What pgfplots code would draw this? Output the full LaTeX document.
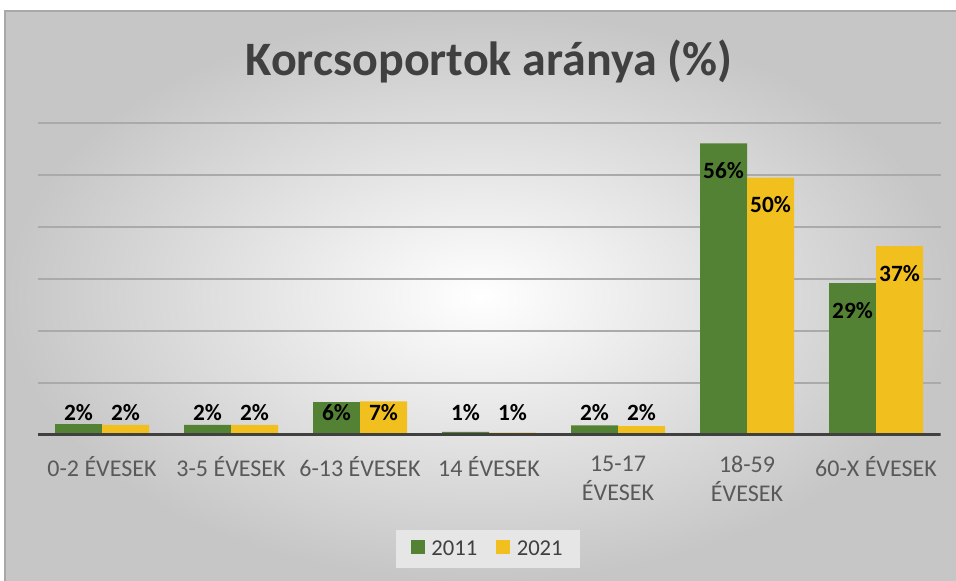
\documentclass[border=0pt]{standalone}
\usepackage{pgfplots}
\pgfplotsset{compat=1.18}
\usepackage{pgfplotstable}
\usepackage{fontspec}
\setmainfont{Carlito}

\definecolor{cgreen}{RGB}{84,130,53}
\definecolor{cyellow}{RGB}{242,192,30}
\definecolor{ctitle}{RGB}{64,64,64}
\definecolor{ctick}{RGB}{89,89,89}
\definecolor{cgrid}{RGB}{170,170,170}
\definecolor{cbase}{RGB}{64,64,64}
\definecolor{cbg}{RGB}{198,198,198}
\definecolor{cleg}{RGB}{230,230,230}

\pgfplotstableread{
x v lab
0 2.1 2
1 1.95 2
2 6.3 6
3 0.6 1
4 1.85 2
5 56.1 56
6 29.2 29
}\dataA

\pgfplotstableread{
x v lab
0 1.95 2
1 1.95 2
2 6.45 7
3 0.45 1
4 1.7 2
5 49.5 50
6 36.3 37
}\dataB

\begin{document}
\begin{tikzpicture}
\path[use as bounding box, fill=white] (-28.125pt,-109.5pt) rectangle (688.875pt,326.25pt);
\shade[inner color=white, outer color=cbg] (-24.375pt,-109.5pt) rectangle (688.875pt,318pt);
\draw[cbg!85!black, line width=0.8pt] (-24.375pt,-109.5pt) -- (-24.375pt,318pt) -- (688.875pt,318pt);
\begin{axis}[
  at={(0pt,0pt)}, anchor=south west,
  x=96.75pt, y=3.9pt,
  xmin=-0.5, xmax=6.5, ymin=0, ymax=60,
  /pgf/number format/assume math mode=true,
  axis line style={draw=none},
  tick style={draw=none},
  ytick={10,20,...,60}, yticklabels={},
  ymajorgrids, grid style={cgrid, line width=1.5pt},
  xtick={0,...,6},
  xticklabels={0-2 ÉVESEK, 3-5 ÉVESEK, 6-13 ÉVESEK, 14 ÉVESEK, {15-17\\ÉVESEK}, {18-59\\ÉVESEK}, 60-X ÉVESEK},
  xticklabel style={font=\fontsize{18}{22}\selectfont, text=ctick, align=center, yshift=-8pt},
  ybar, bar width=35.25pt,
  title={Korcsoportok aránya (\%)},
  title style={font=\fontsize{36}{40}\selectfont\bfseries, text=ctitle, at={(0.5,1.125)}, anchor=base},
  legend style={at={(0.499,-0.365)}, anchor=center, draw=none, fill=cleg,
    legend columns=2, font=\fontsize{17}{20}\selectfont, text=ctitle,
    /tikz/every odd column/.append style={column sep=3pt},
    /tikz/every even column/.append style={column sep=12pt},
    inner xsep=11pt, inner ysep=6pt},
  legend image code/.code={\fill[#1] (0pt,-4pt) rectangle (10.5pt,6.5pt);},
]
\addplot[fill=cgreen, draw=none, bar shift=-17.625pt, point meta=explicit,
  nodes near coords={\pgfmathprintnumber{\pgfplotspointmeta}\%},
  visualization depends on={y \as \rawy},
  every node near coord/.append style={font=\fontsize{17.5}{20}\selectfont\bfseries, text=black, anchor=center, yshift={max(-5.2,4.4-\rawy)*3.9pt}}]
  table[x=x, y=v, meta=lab] {\dataA};
\addplot[fill=cyellow, draw=none, bar shift=17.625pt, point meta=explicit,
  nodes near coords={\pgfmathprintnumber{\pgfplotspointmeta}\%},
  visualization depends on={y \as \rawy},
  every node near coord/.append style={font=\fontsize{17.5}{20}\selectfont\bfseries, text=black, anchor=center, yshift={max(-5.2,4.4-\rawy)*3.9pt}}]
  table[x=x, y=v, meta=lab] {\dataB};
\addplot[sharp plot, draw=cbase, line width=3pt, forget plot, mark=none] coordinates {(-0.5,0) (6.5,0)};
\legend{2011,2021}
\end{axis}
\end{tikzpicture}
\end{document}
